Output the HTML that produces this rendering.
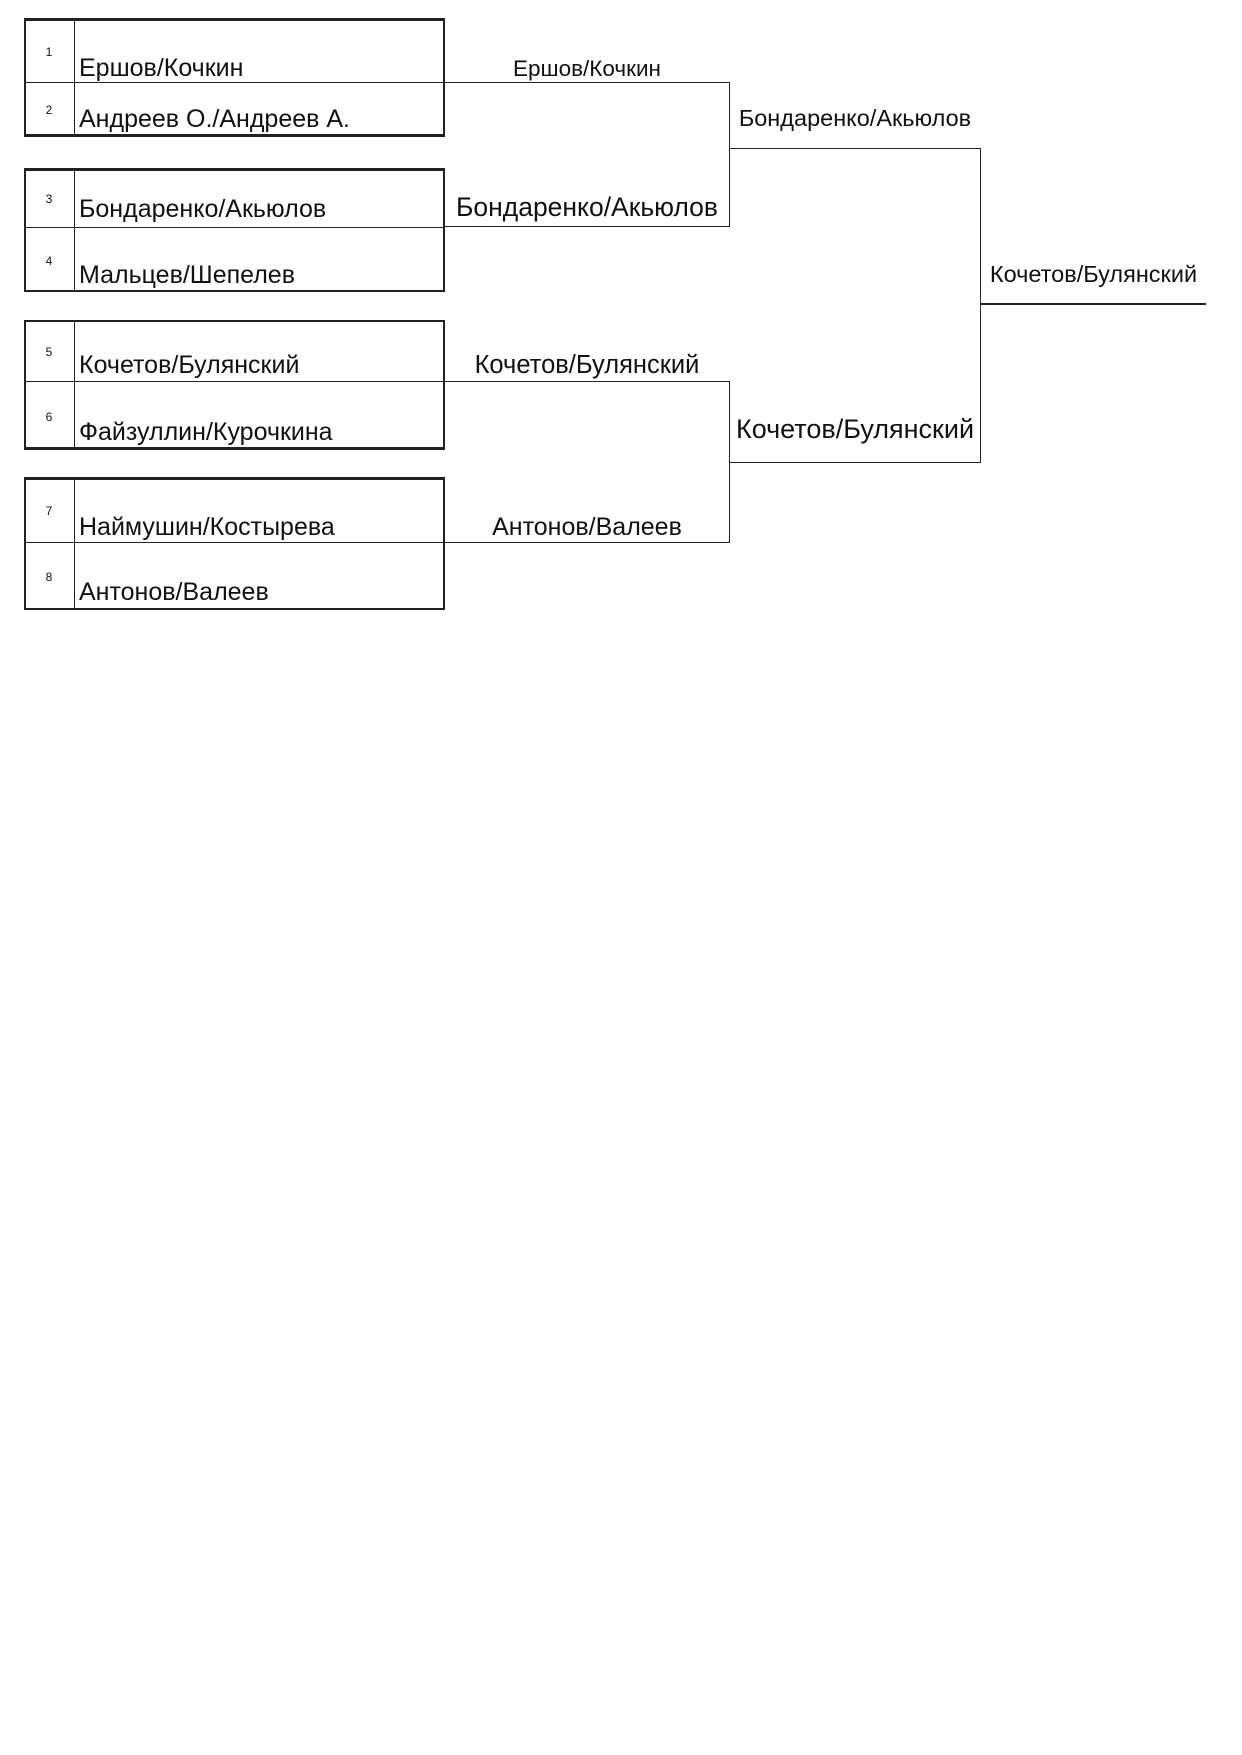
<!DOCTYPE html>
<html><head><meta charset="utf-8"><style>
html,body{margin:0;padding:0;background:#fff;}
body{width:1242px;height:1755px;position:relative;overflow:hidden;font-family:"Liberation Sans",Arial,sans-serif;color:#111;}
.l{position:absolute;background:#222;}
.t{position:absolute;white-space:nowrap;line-height:1;}
.n{position:absolute;font-size:12px;width:50px;text-align:center;left:24px;}
.c{text-align:center;}
</style></head><body>
<div class="l" style="left:24px;top:18px;width:421px;height:3px"></div>
<div class="l" style="left:24px;top:18px;width:2px;height:118px"></div>
<div class="l" style="left:443px;top:18px;width:2px;height:118px"></div>
<div class="l" style="left:24px;top:134px;width:421px;height:3px"></div>
<div class="l" style="left:24px;top:82px;width:421px;height:1px"></div>
<div class="l" style="left:74px;top:19px;width:1px;height:117px"></div>

<div class="l" style="left:24px;top:168px;width:421px;height:3px"></div>
<div class="l" style="left:24px;top:168px;width:2px;height:124px"></div>
<div class="l" style="left:443px;top:168px;width:2px;height:124px"></div>
<div class="l" style="left:24px;top:290px;width:421px;height:2px"></div>
<div class="l" style="left:24px;top:227px;width:421px;height:1px"></div>
<div class="l" style="left:74px;top:169px;width:1px;height:122px"></div>

<div class="l" style="left:24px;top:320px;width:421px;height:2px"></div>
<div class="l" style="left:24px;top:320px;width:2px;height:129px"></div>
<div class="l" style="left:443px;top:320px;width:2px;height:129px"></div>
<div class="l" style="left:24px;top:447px;width:421px;height:3px"></div>
<div class="l" style="left:24px;top:381px;width:421px;height:1px"></div>
<div class="l" style="left:74px;top:321px;width:1px;height:127px"></div>

<div class="l" style="left:24px;top:477px;width:421px;height:3px"></div>
<div class="l" style="left:24px;top:477px;width:2px;height:133px"></div>
<div class="l" style="left:443px;top:477px;width:2px;height:133px"></div>
<div class="l" style="left:24px;top:608px;width:421px;height:2px"></div>
<div class="l" style="left:24px;top:542px;width:421px;height:1px"></div>
<div class="l" style="left:74px;top:478px;width:1px;height:131px"></div>

<div class="l" style="left:445px;top:82px;width:285px;height:1px"></div>
<div class="l" style="left:729px;top:82px;width:1px;height:145px"></div>
<div class="l" style="left:445px;top:226px;width:285px;height:1px"></div>
<div class="l" style="left:445px;top:381px;width:285px;height:1px"></div>
<div class="l" style="left:729px;top:381px;width:1px;height:162px"></div>
<div class="l" style="left:445px;top:542px;width:285px;height:1px"></div>
<div class="l" style="left:729px;top:148px;width:252px;height:1px"></div>
<div class="l" style="left:980px;top:148px;width:1px;height:315px"></div>
<div class="l" style="left:729px;top:462px;width:252px;height:1px"></div>
<div class="l" style="left:981px;top:303px;width:225px;height:2px"></div>

<div class="n" style="top:45px">1</div>
<div class="n" style="top:103px">2</div>
<div class="n" style="top:192px">3</div>
<div class="n" style="top:254px">4</div>
<div class="n" style="top:345px">5</div>
<div class="n" style="top:410px">6</div>
<div class="n" style="top:504px">7</div>
<div class="n" style="top:570px">8</div>

<div class="t" style="left:79px;top:56px;font-size:25px">Ершов/Кочкин</div>
<div class="t" style="left:79px;top:107px;font-size:25px">Андреев О./Андреев А.</div>
<div class="t" style="left:79px;top:197px;font-size:25px">Бондаренко/Акьюлов</div>
<div class="t" style="left:79px;top:263px;font-size:25px">Мальцев/Шепелев</div>
<div class="t" style="left:79px;top:353px;font-size:25px">Кочетов/Булянский</div>
<div class="t" style="left:79px;top:420px;font-size:25px">Файзуллин/Курочкина</div>
<div class="t" style="left:79px;top:515px;font-size:25px">Наймушин/Костырева</div>
<div class="t" style="left:79px;top:580px;font-size:25px">Антонов/Валеев</div>

<div class="t c" style="left:445px;width:284px;top:58px;font-size:22.5px">Ершов/Кочкин</div>
<div class="t c" style="left:445px;width:284px;top:194px;font-size:26.5px">Бондаренко/Акьюлов</div>
<div class="t c" style="left:445px;width:284px;top:353px;font-size:25.5px">Кочетов/Булянский</div>
<div class="t c" style="left:445px;width:284px;top:515px;font-size:25px">Антонов/Валеев</div>
<div class="t c" style="left:730px;width:250px;top:107px;font-size:23.5px">Бондаренко/Акьюлов</div>
<div class="t c" style="left:730px;width:250px;top:416px;font-size:27px">Кочетов/Булянский</div>
<div class="t c" style="left:981px;width:225px;top:263px;font-size:23.5px">Кочетов/Булянский</div>
</body></html>
